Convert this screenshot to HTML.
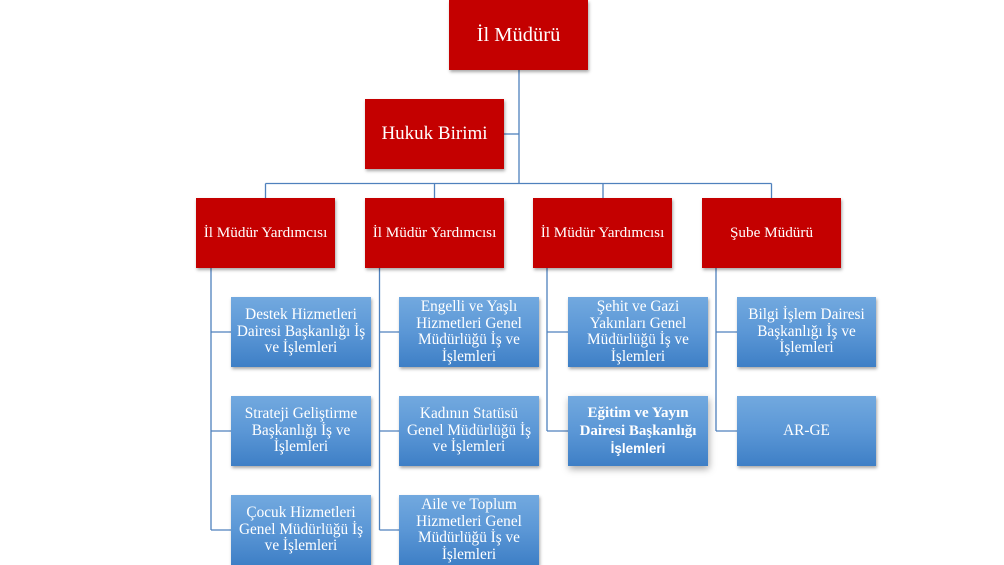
<!DOCTYPE html>
<html>
<head>
<meta charset="utf-8">
<style>
  html, body { margin:0; padding:0; }
  body { width:1004px; height:565px; position:relative; overflow:hidden; background:#ffffff; }
  .box { position:absolute; display:flex; align-items:center; justify-content:center; text-align:center;
         color:#ffffff; font-family:"Liberation Serif", serif; box-sizing:border-box; }
  .red { background:#c40000; box-shadow:1px 2px 3px rgba(0,0,0,0.35); }
  .blue { background:linear-gradient(to bottom, #72a9df 0%, #5b97d6 50%, #3e7fc6 100%);
          box-shadow:1px 2px 3px rgba(0,0,0,0.35); font-size:15.3px; line-height:16.5px; padding:0 3px; }
  svg { position:absolute; left:0; top:0; }
</style>
</head>
<body>
<svg width="1004" height="565" viewBox="0 0 1004 565">
  <g stroke="#4f81bd" stroke-width="1.3" fill="none">
    <line x1="519" y1="70" x2="519" y2="183.5"/>
    <line x1="504" y1="134" x2="519" y2="134"/>
    <line x1="265.5" y1="183.5" x2="771.5" y2="183.5"/>
    <line x1="265.5" y1="183.5" x2="265.5" y2="198"/>
    <line x1="434.5" y1="183.5" x2="434.5" y2="198"/>
    <line x1="603" y1="183.5" x2="603" y2="198"/>
    <line x1="771.5" y1="183.5" x2="771.5" y2="198"/>
    <line x1="211" y1="268" x2="211" y2="530"/>
    <line x1="211" y1="332" x2="231" y2="332"/>
    <line x1="211" y1="431" x2="231" y2="431"/>
    <line x1="211" y1="530" x2="231" y2="530"/>
    <line x1="379.5" y1="268" x2="379.5" y2="530"/>
    <line x1="379.5" y1="332" x2="399" y2="332"/>
    <line x1="379.5" y1="431" x2="399" y2="431"/>
    <line x1="379.5" y1="530" x2="399" y2="530"/>
    <line x1="547" y1="268" x2="547" y2="431"/>
    <line x1="547" y1="332" x2="568" y2="332"/>
    <line x1="547" y1="431" x2="568" y2="431"/>
    <line x1="716" y1="268" x2="716" y2="431"/>
    <line x1="716" y1="332" x2="737" y2="332"/>
    <line x1="716" y1="431" x2="737" y2="431"/>
  </g>
</svg>

<div class="box red" style="left:449px;top:0;width:139px;height:70px;font-size:20.5px;">İl Müdürü</div>
<div class="box red" style="left:365px;top:99px;width:139px;height:70px;font-size:19px;">Hukuk Birimi</div>

<div class="box red" style="left:196px;top:198px;width:139px;height:70px;font-size:15.2px;">İl Müdür Yardımcısı</div>
<div class="box red" style="left:365px;top:198px;width:139px;height:70px;font-size:15.2px;">İl Müdür Yardımcısı</div>
<div class="box red" style="left:533px;top:198px;width:139px;height:70px;font-size:15.2px;">İl Müdür Yardımcısı</div>
<div class="box red" style="left:702px;top:198px;width:139px;height:70px;font-size:15.2px;">Şube Müdürü</div>

<div class="box blue" style="left:231px;top:297px;width:140px;height:70px;">Destek Hizmetleri Dairesi Başkanlığı İş ve İşlemleri</div>
<div class="box blue" style="left:231px;top:396px;width:140px;height:70px;">Strateji Geliştirme Başkanlığı İş ve İşlemleri</div>
<div class="box blue" style="left:231px;top:495px;width:140px;height:70px;">Çocuk Hizmetleri Genel Müdürlüğü İş ve İşlemleri</div>

<div class="box blue" style="left:399px;top:297px;width:140px;height:70px;padding:0 12px;">Engelli ve Yaşlı Hizmetleri Genel Müdürlüğü İş ve İşlemleri</div>
<div class="box blue" style="left:399px;top:396px;width:140px;height:70px;">Kadının Statüsü Genel Müdürlüğü İş ve İşlemleri</div>
<div class="box blue" style="left:399px;top:495px;width:140px;height:70px;padding:0 12px;">Aile ve Toplum Hizmetleri Genel Müdürlüğü İş ve İşlemleri</div>

<div class="box blue" style="left:568px;top:297px;width:140px;height:70px;padding:0 18px;">Şehit ve Gazi Yakınları Genel Müdürlüğü İş ve İşlemleri</div>
<div class="box blue" style="left:568px;top:396px;width:140px;height:70px;font-size:15px;line-height:18px;font-weight:bold;box-shadow:1px 3px 7px rgba(0,0,0,0.35);">
  <div>Eğitim ve Yayın<br>Dairesi Başkanlığı<br><span style="font-family:'Liberation Sans',sans-serif;font-size:13.5px;">İşlemleri</span></div>
</div>

<div class="box blue" style="left:737px;top:297px;width:139px;height:70px;padding:0 8px;">Bilgi İşlem Dairesi Başkanlığı İş ve İşlemleri</div>
<div class="box blue" style="left:737px;top:396px;width:139px;height:70px;">AR-GE</div>
</body>
</html>
